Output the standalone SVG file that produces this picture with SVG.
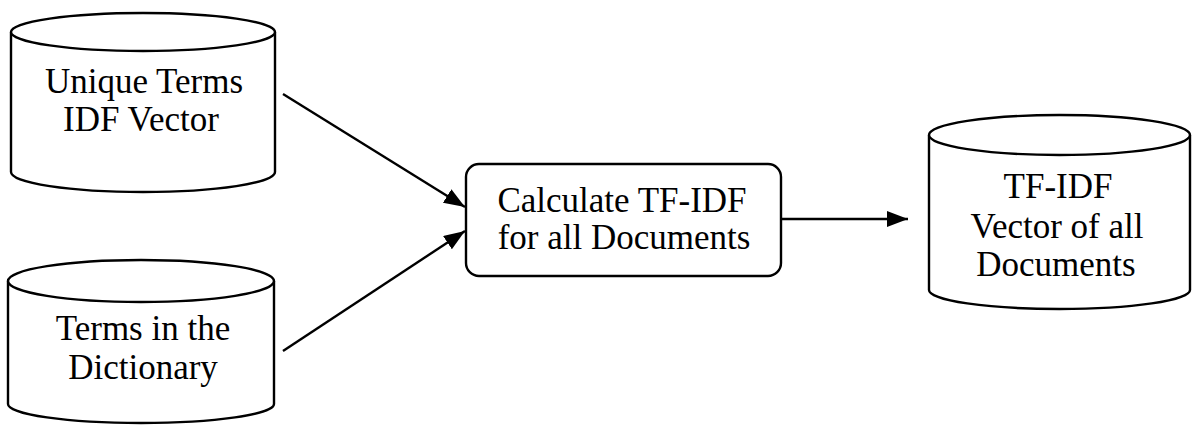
<svg xmlns="http://www.w3.org/2000/svg" width="1193" height="425" viewBox="0 0 1193 425">
  <style>
    .shape { fill: #ffffff; stroke: #000000; stroke-width: 2.4; }
    .edge { fill: none; stroke: #000000; stroke-width: 2.4; }
    .label { font-family: "Liberation Serif", "Times New Roman", serif; font-size: 35px; fill: #000000; text-anchor: middle; }
  </style>
  <defs>
    <marker id="arrow" markerUnits="userSpaceOnUse" markerWidth="22" markerHeight="17" refX="21" refY="8" orient="auto">
      <path d="M0,0 L21,8 L0,16 z" fill="#000000"/>
    </marker>
  </defs>
  <rect width="1193" height="425" fill="#ffffff"/>

  <g id="connectors">
    <line class="edge" x1="283" y1="94" x2="465" y2="207" marker-end="url(#arrow)"/>
    <line class="edge" x1="283" y1="351" x2="465" y2="231" marker-end="url(#arrow)"/>
    <line class="edge" x1="781" y1="219" x2="908" y2="219" marker-end="url(#arrow)"/>
  </g>

  <g id="unique-terms-idf">
    <path class="shape" d="M11,32 A132,19 0 0 1 275,32 L275,172 A132,20 0 0 1 11,172 Z"/>
    <path class="shape" d="M11,32 A132,19 0 0 0 275,32"/>
    <text class="label" x="144" y="93">Unique Terms</text>
    <text class="label" x="141" y="131">IDF Vector</text>
  </g>

  <g id="dictionary-terms">
    <path class="shape" d="M8,281 A133,21 0 0 1 274,281 L274,404 A133,19 0 0 1 8,404 Z"/>
    <path class="shape" d="M8,281 A133,21 0 0 0 274,281"/>
    <text class="label" x="143" y="340">Terms in the</text>
    <text class="label" x="143" y="379">Dictionary</text>
  </g>

  <g id="calculate-tfidf">
    <rect class="shape" x="466" y="164" width="315" height="112" rx="13" ry="13"/>
    <text class="label" x="622" y="212">Calculate TF-IDF</text>
    <text class="label" x="624" y="249">for all Documents</text>
  </g>

  <g id="tfidf-vectors">
    <path class="shape" d="M929,135 A130.5,20 0 0 1 1190,135 L1190,290 A130.5,19 0 0 1 929,290 Z"/>
    <path class="shape" d="M929,135 A130.5,20 0 0 0 1190,135"/>
    <text class="label" x="1058" y="198">TF-IDF</text>
    <text class="label" x="1057" y="238">Vector of all</text>
    <text class="label" x="1056" y="276">Documents</text>
  </g>
</svg>
